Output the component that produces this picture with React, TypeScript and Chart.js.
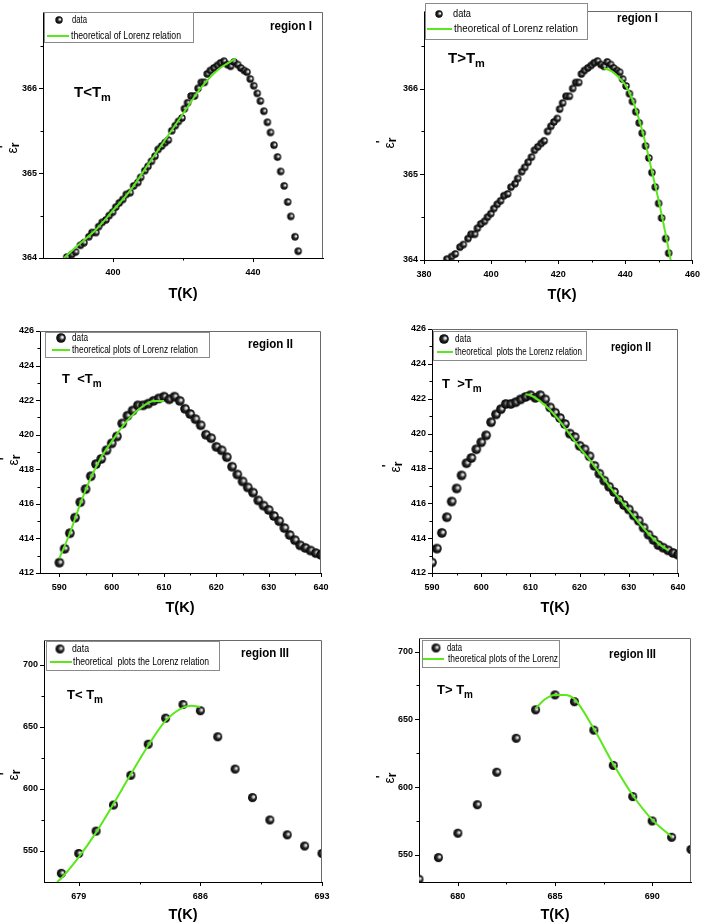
import React, { useEffect, useRef } from "react";
import { Chart, registerables } from "chart.js";

Chart.register(...registerables);

const FONT = '"Liberation Sans", Arial, Helvetica, sans-serif';
const GREEN = "#5ae81c";

// ---------------- Region I data ----------------
const regionI_T = [
  386.8, 388.2, 389.3, 390.7, 391.7, 393.1, 394.0, 395.1, 395.9, 396.9,
  398.0, 398.9, 399.9, 400.8, 401.8, 402.8, 403.8, 404.9, 405.9, 407.1,
  407.9, 409.1, 410.0, 411.0, 412.0, 412.9, 413.9, 414.9, 415.8, 416.8,
  417.8, 418.7, 419.7, 420.4, 421.3, 422.3, 423.3, 424.3, 425.2, 426.1,
  426.9, 427.8, 428.8, 429.8, 430.7, 431.7, 432.7, 433.6, 434.6, 435.6,
  436.5, 437.5, 438.3, 439.2, 440.2, 441.2, 442.1, 443.1, 444.1, 445.0,
  446.0, 447.0, 447.9, 448.9, 449.9, 450.8, 452.0, 452.9,
];
const regionI_eps = [
  364.01, 364.04, 364.07, 364.15, 364.18, 364.25, 364.3, 364.3, 364.37, 364.42,
  364.45, 364.5, 364.54, 364.6, 364.65, 364.69, 364.75, 364.77, 364.85, 364.89,
  364.95, 365.03, 365.08, 365.14, 365.2, 365.28, 365.32, 365.36, 365.39, 365.5,
  365.56, 365.61, 365.65, 365.76, 365.83, 365.91, 365.91, 366.0, 366.07, 366.07,
  366.17, 366.21, 366.24, 366.27, 366.3, 366.32, 366.28, 366.26, 366.31, 366.28,
  366.24, 366.21, 366.19, 366.11, 366.03, 365.94, 365.85, 365.73, 365.6, 365.48,
  365.33, 365.19, 365.02, 364.85, 364.66, 364.49, 364.25, 364.08,
];
const fitI_below_T = [386, 390, 395, 400, 405, 410, 415, 420, 425, 430, 435];
const fitI_below_eps = [364.0, 364.15, 364.33, 364.56, 364.8, 365.1, 365.4, 365.7, 366.0, 366.22, 366.35];
const fitI_above_T = [433.6, 436, 438, 440, 442, 444, 446, 448, 450, 452, 453.5];
const fitI_above_eps = [366.24, 366.2, 366.13, 366.04, 365.88, 365.65, 365.36, 365.02, 364.68, 364.3, 364.0];

// ---------------- Region II data ----------------
const regionII_T = [
  590, 591, 592, 593, 594, 595, 596, 597, 598, 599,
  600, 601, 602, 603, 604, 605, 606, 607, 608, 609,
  610, 611, 612, 613, 614, 615, 616, 617, 618, 619,
  620, 621, 622, 623, 624, 625, 626, 627, 628, 629,
  630, 631, 632, 633, 634, 635, 636, 637, 638, 639, 640,
];
const regionII_eps = [
  412.6, 413.4, 414.3, 415.2, 416.1, 416.85, 417.6, 418.3, 418.6, 419.1,
  419.5, 419.9, 420.65, 421.1, 421.4, 421.7, 421.7, 421.8, 421.96, 422.1,
  422.2, 422.05, 422.2, 421.96, 421.5, 421.2, 420.9, 420.55, 420.0, 419.8,
  419.3, 419.1, 418.7, 418.15, 417.7, 417.3, 416.95, 416.65, 416.2, 415.9,
  415.65, 415.3, 415.0, 414.6, 414.2, 413.9, 413.6, 413.45, 413.3, 413.15, 413.05,
];
const fitII_below_T = [590, 592, 594, 596, 598, 600, 602, 604, 606, 608, 610];
const fitII_below_eps = [412.85, 414.3, 416.0, 417.5, 418.7, 419.6, 420.45, 421.15, 421.65, 421.95, 421.95];
const fitII_above_T = [609, 610, 612, 614, 616, 618, 620, 622, 624, 626, 628, 630, 632, 634, 636, 638];
const fitII_above_eps = [422.25, 422.2, 421.85, 421.35, 420.7, 419.95, 419.2, 418.5, 417.75, 417.0, 416.3, 415.6, 414.9, 414.25, 413.7, 413.3];

// ---------------- Region III data ----------------
const regionIII_T = [678, 679, 680, 681, 682, 683, 684, 685, 686, 687, 688, 689, 690, 691, 692, 693];
const regionIII_eps = [532, 548, 566, 587, 611, 636, 657, 668, 663, 642, 616, 593, 575, 563, 554, 548];
const fitIII_below_T = [677.75, 678, 679, 680, 681, 682, 683, 684, 685, 685.5, 686];
const fitIII_below_eps = [525, 528, 545, 565, 588, 612, 635, 655, 665.5, 667, 666];
const fitIII_above_T = [684, 684.5, 685, 685.5, 686, 687, 688, 689, 690, 691];
const fitIII_above_eps = [658, 665, 668, 668, 665, 643, 617, 594, 576, 563.5];

// ---------------- Tick values ----------------
const ticksI_left_x = [400, 440];
const minorI_left_x = [420];
const ticksI_right_x = [380, 400, 420, 440, 460];
const minorI_right_x = [390, 410, 430, 450];
const ticksI_y = [364, 365, 366];
const minorI_y = [364.5, 365.5, 366.5];
const ticksII_x = [590, 600, 610, 620, 630, 640];
const minorII_x = [595, 605, 615, 625, 635];
const ticksII_y = [412, 414, 416, 418, 420, 422, 424, 426];
const minorII_y = [413, 415, 417, 419, 421, 423, 425];
const ticksIII_left_x = [679, 686, 693];
const minorIII_left_x = [682.5, 689.5];
const ticksIII_right_x = [680, 685, 690];
const minorIII_right_x = [682.5, 687.5];
const ticksIII_y = [550, 600, 650, 700];
const minorIII_y = [575, 625, 675];

// ---------------- Texts ----------------
const LEG_DATA = "data";
const X_TITLE = "T(K)";

type Panel = {
  key: string;
  canvas: { x: number; y: number; w: number; h: number };
  area: { l: number; t: number; r: number; b: number };
  xMin: number; xMax: number; yMin: number; yMax: number;
  xMajor: number[]; xMinor: number[]; yMajor: number[]; yMinor: number[];
  dataT: number[]; dataE: number[]; fitT: number[]; fitE: number[];
  radius: number;
  fitLabel: string;
  legend: { box: number[]; sym: number[]; dataText: number[]; line: number[]; fitText: number[] };
  region: { text: string; x: number; y: number; w: number };
  tlab: { main: string; sub: string; x: number; y: number; size: number };
  ylab: number[];
  xTitle: number[];
};

const panels: Panel[] = [
  {
    key: "p1",
    canvas: { x: 0, y: 0, w: 354, h: 302 },
    area: { l: 43, t: 12, r: 323, b: 258 },
    xMin: 380, xMax: 460, yMin: 364, yMax: 366.9,
    xMajor: ticksI_left_x, xMinor: minorI_left_x, yMajor: ticksI_y, yMinor: minorI_y,
    dataT: regionI_T, dataE: regionI_eps, fitT: fitI_below_T, fitE: fitI_below_eps,
    radius: 3.7,
    fitLabel: "theoretical of Lorenz relation",
    legend: { box: [44, 12, 149, 30], sym: [59, 20], dataText: [72, 20, 15], line: [47, 69, 36], fitText: [71, 36, 110] },
    region: { text: "region I", x: 270, y: 30, w: 42 },
    tlab: { main: "T<T", sub: "m", x: 74, y: 97, size: 15 },
    ylab: [13, 148],
    xTitle: [183, 298],
  },
  {
    key: "p2",
    canvas: { x: 354, y: 0, w: 355, h: 302 },
    area: { l: 424, t: 3, r: 700, b: 260 },
    xMin: 380, xMax: 460, yMin: 364, yMax: 366.9,
    xMajor: ticksI_right_x, xMinor: minorI_right_x, yMajor: ticksI_y, yMinor: minorI_y,
    dataT: regionI_T, dataE: regionI_eps, fitT: fitI_above_T, fitE: fitI_above_eps,
    radius: 3.7,
    fitLabel: "theoretical of Lorenz relation",
    legend: { box: [425, 3, 162, 36], sym: [439, 14], dataText: [453, 14, 18], line: [427, 452, 29], fitText: [454, 29, 124] },
    region: { text: "region I", x: 617, y: 22, w: 41 },
    tlab: { main: "T>T", sub: "m", x: 448, y: 63, size: 15 },
    ylab: [390, 143],
    xTitle: [562, 299],
  },
  {
    key: "p3",
    canvas: { x: 0, y: 300, w: 354, h: 316 },
    area: { l: 40, t: 331, r: 321, b: 573 },
    xMin: 586.3, xMax: 640, yMin: 412, yMax: 426,
    xMajor: ticksII_x, xMinor: minorII_x, yMajor: ticksII_y, yMinor: minorII_y,
    dataT: regionII_T, dataE: regionII_eps, fitT: fitII_below_T, fitE: fitII_below_eps,
    radius: 4.8,
    fitLabel: "theoretical plots of Lorenz relation",
    legend: { box: [45, 332, 164, 25], sym: [61, 338], dataText: [72, 338, 16], line: [52, 70, 350], fitText: [72, 350, 126] },
    region: { text: "region II", x: 248, y: 348, w: 45 },
    tlab: { main: "T  <T", sub: "m", x: 62, y: 383, size: 13 },
    ylab: [14, 460],
    xTitle: [180, 612],
  },
  {
    key: "p4",
    canvas: { x: 354, y: 300, w: 355, h: 316 },
    area: { l: 432, t: 329, r: 678, b: 573 },
    xMin: 590, xMax: 640, yMin: 412, yMax: 426,
    xMajor: ticksII_x, xMinor: minorII_x, yMajor: ticksII_y, yMinor: minorII_y,
    dataT: regionII_T, dataE: regionII_eps, fitT: fitII_above_T, fitE: fitII_above_eps,
    radius: 4.8,
    fitLabel: "theoretical  plots the Lorenz relation",
    legend: { box: [433, 331, 153, 29], sym: [444, 339], dataText: [455, 339, 16], line: [437, 453, 352], fitText: [455, 352, 127] },
    region: { text: "region II", x: 611, y: 351, w: 40 },
    tlab: { main: "T  >T", sub: "m", x: 442, y: 388, size: 13 },
    ylab: [396, 467],
    xTitle: [555, 612],
  },
  {
    key: "p5",
    canvas: { x: 0, y: 616, w: 354, h: 307 },
    area: { l: 44, t: 640, r: 322, b: 882 },
    xMin: 677, xMax: 693, yMin: 525, yMax: 720,
    xMajor: ticksIII_left_x, xMinor: minorIII_left_x, yMajor: ticksIII_y, yMinor: minorIII_y,
    dataT: regionIII_T, dataE: regionIII_eps, fitT: fitIII_below_T, fitE: fitIII_below_eps,
    radius: 4.5,
    fitLabel: "theoretical  plots the Lorenz relation",
    legend: { box: [46, 641, 173, 29], sym: [60, 649], dataText: [72, 649, 17], line: [50, 72, 662], fitText: [73, 662, 136] },
    region: { text: "region III", x: 241, y: 657, w: 48 },
    tlab: { main: "T< T", sub: "m", x: 67, y: 699, size: 13 },
    ylab: [14, 775],
    xTitle: [183, 919],
  },
  {
    key: "p6",
    canvas: { x: 354, y: 616, w: 355, h: 307 },
    area: { l: 419, t: 638, r: 691, b: 882 },
    xMin: 678, xMax: 692, yMin: 530, yMax: 710,
    xMajor: ticksIII_right_x, xMinor: minorIII_right_x, yMajor: ticksIII_y, yMinor: minorIII_y,
    dataT: regionIII_T, dataE: regionIII_eps, fitT: fitIII_above_T, fitE: fitIII_above_eps,
    radius: 4.5,
    fitLabel: "theoretical plots of the Lorenz",
    legend: { box: [422, 640, 137, 27], sym: [436, 648], dataText: [447, 648, 15], line: [423, 444, 659], fitText: [448, 659, 110] },
    region: { text: "region III", x: 609, y: 658, w: 47 },
    tlab: { main: "T> T", sub: "m", x: 437, y: 694, size: 13 },
    ylab: [390, 778],
    xTitle: [555, 919],
  },
];

const Y_AXIS_W = 30;
const X_AXIS_H = 25;

function makeBall(r: number): HTMLCanvasElement {
  const s = Math.ceil(r * 2) + 2;
  const c = document.createElement("canvas");
  c.width = s;
  c.height = s;
  const g = c.getContext("2d")!;
  const cx = s / 2;
  const cy = s / 2;
  const grad = g.createRadialGradient(cx + r * 0.35, cy - r * 0.2, r * 0.05, cx, cy, r);
  grad.addColorStop(0, "#ffffff");
  grad.addColorStop(0.2, "#bdbdbd");
  grad.addColorStop(0.5, "#2a2a2a");
  grad.addColorStop(1, "#000000");
  g.fillStyle = grad;
  g.beginPath();
  g.arc(cx, cy, r, 0, Math.PI * 2);
  g.fill();
  return c;
}

function fitText(ctx: CanvasRenderingContext2D, text: string, x: number, y: number, font: string, width: number | null, baseline: CanvasTextBaseline, align: "left" | "center" = "left") {
  ctx.save();
  ctx.font = font;
  const w = ctx.measureText(text).width;
  const sx = width ? width / w : 1;
  ctx.translate(x, y);
  ctx.scale(sx, 1);
  ctx.textBaseline = baseline;
  ctx.textAlign = "left";
  ctx.fillStyle = "#000";
  ctx.fillText(text, align === "center" ? -w / 2 : 0, 0);
  ctx.restore();
}

function drawYLabel(ctx: CanvasRenderingContext2D, x: number, y: number) {
  ctx.save();
  ctx.translate(x, y);
  ctx.rotate(-Math.PI / 2);
  ctx.fillStyle = "#000";
  ctx.textBaseline = "alphabetic";
  ctx.textAlign = "left";
  ctx.font = `14px ${FONT}`;
  const w1 = ctx.measureText("ε").width;
  ctx.font = `bold 12px ${FONT}`;
  const w2 = ctx.measureText("r").width;
  const start = -(w1 + w2) / 2;
  ctx.font = `14px ${FONT}`;
  ctx.fillText("ε", start, 4);
  ctx.font = `bold 12px ${FONT}`;
  ctx.fillText("r", start + w1, 6);
  ctx.font = `bold 12px ${FONT}`;
  ctx.fillText("'", start + w1 - 1, -5);
  ctx.restore();
}

function PanelChart({ cfg }: { cfg: Panel }) {
  const ref = useRef<HTMLCanvasElement>(null);
  useEffect(() => {
    const canvas = ref.current!;
    const ox = cfg.canvas.x;
    const oy = cfg.canvas.y;
    const ball = makeBall(cfg.radius);
    const pts = cfg.dataT.map((t, i) => ({ x: t, y: cfg.dataE[i] }));
    const fitPts = cfg.fitT.map((t, i) => ({ x: t, y: cfg.fitE[i] }));

    const deco = {
      id: "deco",
      afterDraw(chart: any) {
        const ctx: CanvasRenderingContext2D = chart.ctx;
        const a = chart.chartArea;
        const xs = chart.scales.x;
        const ys = chart.scales.y;
        ctx.save();
        // top & right frame
        ctx.strokeStyle = "#6a6a6a";
        ctx.lineWidth = 1;
        ctx.beginPath();
        ctx.moveTo(a.left, Math.round(a.top) + 0.5);
        ctx.lineTo(Math.round(a.right) - 0.5, Math.round(a.top) + 0.5);
        ctx.lineTo(Math.round(a.right) - 0.5, a.bottom);
        ctx.stroke();
        // ticks
        ctx.strokeStyle = "#000";
        const xTick = (vals: number[], len: number) => {
          vals.forEach((v) => {
            const px = Math.round(xs.getPixelForValue(v)) + 0.5;
            ctx.beginPath();
            ctx.moveTo(px, a.bottom);
            ctx.lineTo(px, a.bottom + len);
            ctx.stroke();
          });
        };
        const yTick = (vals: number[], len: number) => {
          vals.forEach((v) => {
            const py = Math.round(ys.getPixelForValue(v)) + 0.5;
            ctx.beginPath();
            ctx.moveTo(a.left, py);
            ctx.lineTo(a.left - len, py);
            ctx.stroke();
          });
        };
        xTick(cfg.xMajor, 4);
        xTick(cfg.xMinor, 2.5);
        yTick(cfg.yMajor, 4);
        yTick(cfg.yMinor, 2.5);

        // legend box
        const L = cfg.legend;
        const bx = L.box[0] - ox, by = L.box[1] - oy;
        ctx.fillStyle = "#fff";
        ctx.fillRect(bx, by, L.box[2], L.box[3]);
        ctx.strokeStyle = "#8a8a8a";
        ctx.strokeRect(bx + 0.5, by + 0.5, L.box[2], L.box[3]);
        ctx.drawImage(ball, L.sym[0] - ox - ball.width / 2, L.sym[1] - oy - ball.height / 2);
        ctx.strokeStyle = GREEN;
        ctx.lineWidth = 2;
        ctx.beginPath();
        ctx.moveTo(L.line[0] - ox, L.line[2] - oy);
        ctx.lineTo(L.line[1] - ox, L.line[2] - oy);
        ctx.stroke();
        fitText(ctx, LEG_DATA, L.dataText[0] - ox, L.dataText[1] - oy, `11px ${FONT}`, L.dataText[2], "middle");
        fitText(ctx, cfg.fitLabel, L.fitText[0] - ox, L.fitText[1] - oy, `11px ${FONT}`, L.fitText[2], "middle");

        // region label
        fitText(ctx, cfg.region.text, cfg.region.x - ox, cfg.region.y - oy, `bold 13px ${FONT}`, cfg.region.w, "alphabetic");

        // T < Tm label
        const T = cfg.tlab;
        ctx.fillStyle = "#000";
        ctx.textBaseline = "alphabetic";
        ctx.textAlign = "left";
        ctx.font = `bold ${T.size}px ${FONT}`;
        const mw = ctx.measureText(T.main).width;
        ctx.fillText(T.main, T.x - ox, T.y - oy);
        ctx.font = `bold ${Math.round(T.size * 0.75)}px ${FONT}`;
        ctx.fillText(T.sub, T.x - ox + mw, T.y - oy + 4);

        // axis titles
        drawYLabel(ctx, cfg.ylab[0] - ox, cfg.ylab[1] - oy);
        fitText(ctx, X_TITLE, cfg.xTitle[0] - ox, cfg.xTitle[1] - oy, `bold 15px ${FONT}`, 29, "alphabetic", "center");
        ctx.restore();
      },
    };

    const tickFont = { family: FONT, size: 9, weight: "bold" as const };
    const chart = new Chart(canvas, {
      type: "scatter",
      data: {
        datasets: [
          {
            label: cfg.fitLabel,
            data: fitPts,
            showLine: true,
            borderColor: GREEN,
            backgroundColor: GREEN,
            borderWidth: 2,
            pointRadius: 0,
            pointHoverRadius: 0,
            cubicInterpolationMode: "monotone",
            order: 0,
            clip: 0,
          } as any,
          {
            label: LEG_DATA,
            data: pts,
            pointStyle: ball,
            pointRadius: cfg.radius,
            pointHoverRadius: cfg.radius,
            order: 1,
            clip: 0,
          } as any,
        ],
      },
      options: {
        responsive: false,
        animation: false,
        events: [],
        layout: {
          padding: {
            left: cfg.area.l - cfg.canvas.x - Y_AXIS_W,
            top: cfg.area.t - cfg.canvas.y,
            right: cfg.canvas.x + cfg.canvas.w - cfg.area.r,
            bottom: cfg.canvas.y + cfg.canvas.h - cfg.area.b - X_AXIS_H,
          },
        },
        plugins: { legend: { display: false }, tooltip: { enabled: false } },
        scales: {
          x: {
            type: "linear",
            position: "bottom",
            min: cfg.xMin,
            max: cfg.xMax,
            afterBuildTicks: (s: any) => {
              s.ticks = cfg.xMajor.map((v) => ({ value: v }));
            },
            afterFit: (s: any) => {
              s.height = X_AXIS_H;
            },
            grid: { display: false, drawTicks: false },
            border: { display: true, color: "#000", width: 1 },
            ticks: { font: tickFont, color: "#000", padding: 9, maxRotation: 0, autoSkip: false, callback: (v: any) => String(v) },
          },
          y: {
            type: "linear",
            position: "left",
            min: cfg.yMin,
            max: cfg.yMax,
            afterBuildTicks: (s: any) => {
              s.ticks = cfg.yMajor.map((v) => ({ value: v }));
            },
            afterFit: (s: any) => {
              s.width = Y_AXIS_W;
            },
            grid: { display: false, drawTicks: false },
            border: { display: true, color: "#000", width: 1 },
            ticks: { font: tickFont, color: "#000", padding: 6, autoSkip: false, callback: (v: any) => String(v) },
          },
        } as any,
      },
      plugins: [deco],
    });
    return () => chart.destroy();
  }, [cfg]);

  return (
    <canvas
      ref={ref}
      width={cfg.canvas.w}
      height={cfg.canvas.h}
      style={{ position: "absolute", left: cfg.canvas.x, top: cfg.canvas.y, width: cfg.canvas.w, height: cfg.canvas.h }}
    />
  );
}

export default function App() {
  return (
    <div style={{ position: "absolute", left: 0, top: 0, width: 709, height: 923, background: "#fff", overflow: "hidden" }}>
      {panels.map((p) => (
        <PanelChart key={p.key} cfg={p} />
      ))}
    </div>
  );
}
